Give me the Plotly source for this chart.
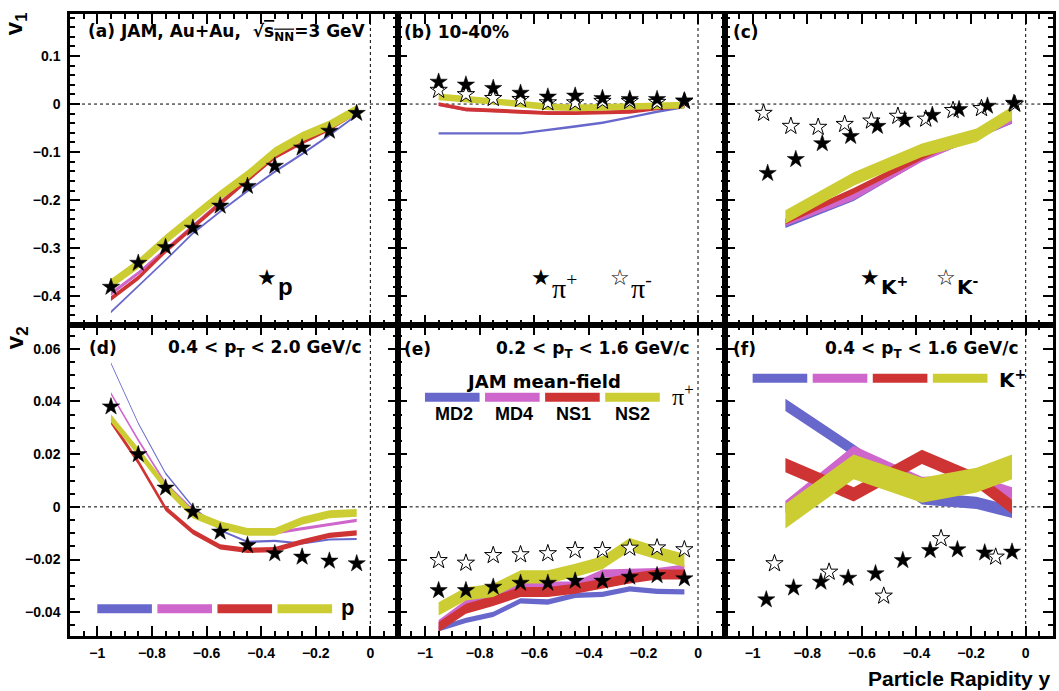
import plotly.graph_objects as go

# ---------------------------------------------------------------- data
# rapidity bins of the measured points
rap = [-0.95, -0.85, -0.75, -0.65, -0.55, -0.45, -0.35, -0.25, -0.15, -0.05]
# rapidity points of the kaon model calculations
rap_k_model = [-0.88, -0.63, -0.38, -0.18, -0.05]

# (a) proton v1
v1_p = [-0.381, -0.331, -0.298, -0.258, -0.212, -0.171, -0.129, -0.091, -0.056, -0.019]
v1_p_md2 = [-0.433, -0.380, -0.325, -0.269, -0.224, -0.181, -0.141, -0.104, -0.065, -0.023]
v1_p_md4 = [-0.395, -0.352, -0.303, -0.253, -0.205, -0.156, -0.108, -0.077, -0.049, -0.015]
v1_p_ns1 = [-0.405, -0.362, -0.306, -0.256, -0.208, -0.158, -0.110, -0.079, -0.051, -0.016]
v1_p_ns2 = [-0.374, -0.333, -0.282, -0.236, -0.190, -0.148, -0.100, -0.068, -0.044, -0.012]

# (b) pion v1
v1_pip = [0.046, 0.040, 0.033, 0.023, 0.015, 0.017, 0.012, 0.010, 0.010, 0.007]
v1_pim = [0.029, 0.020, 0.012, 0.010, 0.003, 0.003, 0.006, 0.006, 0.004, 0.006]
v1_pi_md2 = [-0.061, -0.061, -0.061, -0.061, -0.054, -0.047, -0.039, -0.028, -0.016, -0.006]
v1_pi_md4 = [-0.001, -0.012, -0.014, -0.016, -0.018, -0.018, -0.017, -0.014, -0.009, -0.004]
v1_pi_ns1 = [0.000, -0.011, -0.013, -0.016, -0.019, -0.019, -0.018, -0.016, -0.009, -0.004]
v1_pi_ns2 = [0.015, 0.010, 0.006, 0.000, -0.006, -0.008, -0.007, -0.005, -0.003, -0.002]

# (c) kaon v1
rap_kp_v1 = [-0.945, -0.842, -0.745, -0.641, -0.543, -0.443, -0.342, -0.244, -0.140, -0.043]
v1_kp = [-0.144, -0.115, -0.082, -0.067, -0.046, -0.033, -0.023, -0.011, -0.004, 0.002]
rap_km_v1 = [-0.960, -0.860, -0.760, -0.663, -0.565, -0.468, -0.366, -0.266, -0.162, -0.040]
v1_km = [-0.019, -0.046, -0.048, -0.042, -0.035, -0.025, -0.031, -0.013, -0.009, 0.000]
v1_k_md2 = [-0.254, -0.198, -0.115, -0.068, -0.037]
v1_k_md4 = [-0.247, -0.193, -0.113, -0.065, -0.033]
v1_k_ns1 = [-0.245, -0.181, -0.110, -0.058, -0.015]
v1_k_ns2 = [-0.235, -0.156, -0.096, -0.065, -0.019]

# (d) proton v2
v2_p = [0.0380, 0.0199, 0.0072, -0.0019, -0.0095, -0.0146, -0.0177, -0.0190, -0.0205, -0.0215]
v2_p_md2 = [0.0545, 0.0317, 0.0127, 0.0000, -0.0089, -0.0133, -0.0129, -0.0139, -0.0124, -0.0122]
v2_p_md4 = [0.0430, 0.0253, 0.0089, -0.0013, -0.0074, -0.0099, -0.0099, -0.0082, -0.0067, -0.0051]
v2_p_ns1 = [0.0323, 0.0171, -0.0006, -0.0095, -0.0152, -0.0165, -0.0162, -0.0133, -0.0108, -0.0099]
v2_p_ns2 = [0.0336, 0.0209, 0.0076, -0.0028, -0.0070, -0.0095, -0.0095, -0.0053, -0.0028, -0.0023]

# (e) pion v2
v2_pip = [-0.0317, -0.0317, -0.0304, -0.0289, -0.0289, -0.0281, -0.0281, -0.0266, -0.0260, -0.0272]
v2_pim = [-0.0203, -0.0213, -0.0184, -0.0181, -0.0177, -0.0165, -0.0165, -0.0156, -0.0155, -0.0162]
v2_pi_md2 = [-0.0463, -0.0431, -0.0408, -0.0357, -0.0361, -0.0336, -0.0332, -0.0311, -0.0321, -0.0323]
v2_pi_md4 = [-0.0444, -0.0368, -0.0342, -0.0298, -0.0298, -0.0298, -0.0253, -0.0251, -0.0247, -0.0234]
v2_pi_ns1 = [-0.0456, -0.0387, -0.0357, -0.0323, -0.0323, -0.0311, -0.0292, -0.0272, -0.0257, -0.0257]
v2_pi_ns2 = [-0.0387, -0.0330, -0.0317, -0.0266, -0.0266, -0.0241, -0.0212, -0.0143, -0.0175, -0.0203]

# (f) kaon v2
v2_kp = [-0.0352, -0.0307, -0.0285, -0.0270, -0.0253, -0.0203, -0.0165, -0.0162, -0.0174, -0.0171]
rap_km_v2 = [-0.92, -0.72, -0.52, -0.31, -0.11]
v2_km = [-0.0215, -0.0247, -0.0338, -0.0120, -0.0190]
v2_k_md2 = [0.0387, 0.0215, 0.0032, 0.0015, -0.0019]
v2_k_md4 = [0.0000, 0.0209, 0.0091, 0.0095, 0.0051]
v2_k_ns1 = [0.0158, 0.0047, 0.0190, 0.0101, 0.0000]
v2_k_ns2 = [-0.0035, 0.0152, 0.0063, 0.0101, 0.0152]

# tick values
x_ticks = [-1, -0.8, -0.6, -0.4, -0.2, 0]
v1_ticks = [-0.4, -0.3, -0.2, -0.1, 0, 0.1]
v2_ticks = [-0.04, -0.02, 0, 0.02, 0.04, 0.06]

# ---------------------------------------------------------------- style
MODELS = ["MD2", "MD4", "NS1", "NS2"]
COLORS = {"MD2": "#6868cc", "MD4": "#cf66cc", "NS1": "#cf3434", "NS2": "#cccc33"}
SANS = "Liberation Sans"
WIDE = "DejaVu Sans"
SERIF = "Liberation Serif"

W, H = 1059, 691
ML, MR, MT, MB = 70, 3, 14, 55
X_RANGE = [-1.1, 0.1]
V1_RANGE = [-0.46, 0.1875]
V2_RANGE = [-0.049, 0.069]
STAR = 13


def paper(px, py):
    """pixel position in the page -> paper coordinates"""
    return (px - ML) / (W - ML - MR), (H - MB - py) / (H - MT - MB)


panels = [
    dict(x_model=rap,
         models=dict(MD2=v1_p_md2, MD4=v1_p_md4, NS1=v1_p_ns1, NS2=v1_p_ns2),
         half=dict(MD2=0.0025, MD4=0.004, NS1=0.005, NS2=0.010),
         filled=(rap, v1_p), opened=None),
    dict(x_model=rap,
         models=dict(MD2=v1_pi_md2, MD4=v1_pi_md4, NS1=v1_pi_ns1, NS2=v1_pi_ns2),
         half=dict(MD2=0.0025, MD4=0.003, NS1=0.004, NS2=0.007),
         filled=(rap, v1_pip), opened=(rap, v1_pim)),
    dict(x_model=rap_k_model,
         models=dict(MD2=v1_k_md2, MD4=v1_k_md4, NS1=v1_k_ns1, NS2=v1_k_ns2),
         half=dict(MD2=0.004, MD4=0.007, NS1=0.006, NS2=0.014),
         filled=(rap_kp_v1, v1_kp), opened=(rap_km_v1, v1_km)),
    dict(x_model=rap,
         models=dict(MD2=v2_p_md2, MD4=v2_p_md4, NS1=v2_p_ns1, NS2=v2_p_ns2),
         half=dict(MD2=0.0004, MD4=0.0006, NS1=0.0010, NS2=0.0015),
         filled=(rap, v2_p), opened=None),
    dict(x_model=rap,
         models=dict(MD2=v2_pi_md2, MD4=v2_pi_md4, NS1=v2_pi_ns1, NS2=v2_pi_ns2),
         half=dict(MD2=0.0010, MD4=0.0015, NS1=0.0019, NS2=0.0025),
         filled=(rap, v2_pip), opened=(rap, v2_pim)),
    dict(x_model=rap_k_model,
         models=dict(MD2=v2_k_md2, MD4=v2_k_md4, NS1=v2_k_ns1, NS2=v2_k_ns2),
         half=dict(MD2=0.0023, MD4=0.0023, NS1=0.0027, NS2=0.0047),
         filled=(rap, v2_kp), opened=(rap_km_v2, v2_km)),
]

fig = go.Figure()

for i, pan in enumerate(panels):
    n = "" if i == 0 else str(i + 1)
    xa, ya = "x" + n, "y" + n
    xs = pan["x_model"]
    # model bands: centre +/- half width
    for m in MODELS:
        c = pan["models"][m]
        h = pan["half"][m]
        upper = [v + h for v in c]
        lower = [v - h for v in c]
        fig.add_trace(go.Scatter(
            x=xs + xs[::-1], y=upper + lower[::-1], xaxis=xa, yaxis=ya,
            mode="lines", fill="toself", fillcolor=COLORS[m],
            line=dict(width=0, color=COLORS[m]), hoverinfo="skip", showlegend=False))
    if pan["opened"] is not None:
        ox, oy = pan["opened"]
        fig.add_trace(go.Scatter(
            x=ox, y=oy, xaxis=xa, yaxis=ya, mode="markers", showlegend=False,
            marker=dict(symbol="star", size=STAR, color="white",
                        line=dict(color="black", width=1))))
    fx, fy = pan["filled"]
    fig.add_trace(go.Scatter(
        x=fx, y=fy, xaxis=xa, yaxis=ya, mode="markers", showlegend=False,
        marker=dict(symbol="star", size=STAR, color="black",
                    line=dict(color="black", width=0.5))))

# ---------------------------------------------------------------- axes
tickfont = dict(family=SANS, size=14, color="black", weight="bold")
layout_axes = {}
for i in range(6):
    col, row = i % 3, i // 3
    n = "" if i == 0 else str(i + 1)
    top = row == 0
    layout_axes["xaxis" + n] = dict(
        domain=[col / 3, (col + 1) / 3], anchor="y" + n, range=X_RANGE,
        tickmode="array", tickvals=x_ticks, showticklabels=not top,
        ticks="inside", ticklen=10, tickwidth=1.5, tickcolor="black",
        minor=dict(ticks="inside", ticklen=5, tickwidth=1.5, tickcolor="black",
                   tickmode="linear", tick0=0, dtick=0.05),
        showline=True, linewidth=2.5, linecolor="black", mirror="allticks",
        showgrid=False, zeroline=False, tickfont=tickfont, ticklabelstandoff=2)
    layout_axes["yaxis" + n] = dict(
        domain=[0.5, 1] if top else [0, 0.5], anchor="x" + n,
        range=V1_RANGE if top else V2_RANGE,
        tickmode="array", tickvals=v1_ticks if top else v2_ticks,
        showticklabels=(col == 0),
        ticks="inside", ticklen=10, tickwidth=1.5, tickcolor="black",
        minor=dict(ticks="inside", ticklen=5, tickwidth=1.5, tickcolor="black",
                   tickmode="linear", tick0=0, dtick=0.02 if top else 0.005),
        showline=True, linewidth=2.5, linecolor="black", mirror="allticks",
        showgrid=False, zeroline=False, tickfont=tickfont, ticklabelstandoff=4)

# ---------------------------------------------------------------- shapes
shapes = []
for i in range(6):
    n = "" if i == 0 else str(i + 1)
    dot = dict(color="black", width=1, dash="dot")
    shapes.append(dict(type="line", xref="x" + n + " domain", yref="y" + n,
                       x0=0, x1=1, y0=0, y1=0, line=dot, layer="below"))
    shapes.append(dict(type="line", xref="x" + n, yref="y" + n + " domain",
                       x0=0, x1=0, y0=0, y1=1, line=dot, layer="below"))

# coloured keys of the model legends (panels d, e, f)
key_spans = [(-1.0, -0.8), (-0.78, -0.58), (-0.56, -0.36), (-0.34, -0.14)]
for n, ykey in (("4", -0.0387), ("5", 0.0416), ("6", 0.0488)):
    for m, (x0, x1) in zip(MODELS, key_spans):
        shapes.append(dict(type="line", xref="x" + n, yref="y" + n,
                           x0=x0, x1=x1, y0=ykey, y1=ykey,
                           line=dict(color=COLORS[m], width=9)))

# ---------------------------------------------------------------- text
annotations = []


def text(px, py, s, size=16, anchor="left", family=SANS, bold=True, angle=0):
    x, y = paper(px, py)
    annotations.append(dict(
        x=x, y=y, xref="paper", yref="paper", text=s, showarrow=False,
        xanchor=anchor, yanchor="middle", textangle=angle,
        font=dict(family=family, size=size, color="black",
                  weight="bold" if bold else "normal")))


# panel labels and headers
text(86, 32, "(a) JAM, Au+Au,  √<span style='text-decoration:overline'>s<sub>NN</sub></span>=3 GeV",
     size=17, family=WIDE)
text(403, 32, "(b) 10-40%", size=17, family=WIDE)
text(733, 32, "(c)", size=17, family=WIDE)
text(87, 348, "(d)", size=17, family=WIDE)
text(365, 348, "0.4 &lt; p<sub>T</sub> &lt; 2.0 GeV/c", size=17, family=WIDE, anchor="right")
text(403, 349, "(e)", size=17, family=WIDE)
text(694, 349, "0.2 &lt; p<sub>T</sub> &lt; 1.6 GeV/c", size=17, family=WIDE, anchor="right")
text(733, 349, "(f)", size=17, family=WIDE)
text(1024, 349, "0.4 &lt; p<sub>T</sub> &lt; 1.6 GeV/c", size=17, family=WIDE, anchor="right")

# marker legends
text(268, 277, "★", size=22, anchor="center", family="DejaVu Sans", bold=False)
text(277, 286, "p", size=24)
text(542, 277, "★", size=22, anchor="center", family="DejaVu Sans", bold=False)
text(551, 286, "π<sup>+</sup>", size=28, family=SERIF, bold=False)
text(622, 277, "☆", size=22, anchor="center", family="DejaVu Sans", bold=False)
text(631, 286, "π<sup>-</sup>", size=28, family=SERIF, bold=False)
text(872, 277, "★", size=22, anchor="center", family="DejaVu Sans", bold=False)
text(881, 286, "K<sup>+</sup>", size=20, family=WIDE)
text(949, 277, "☆", size=22, anchor="center", family="DejaVu Sans", bold=False)
text(958, 286, "K<sup>-</sup>", size=20, family=WIDE)

# model legends
text(340, 607, "p", size=22)
text(545, 381, "JAM mean-field", size=18, family=WIDE, anchor="center")
for label, cx in zip(MODELS, [455, 515, 575, 634]):
    text(cx, 414, label, size=18, anchor="center")
text(672, 395, "π<sup>+</sup>", size=24, family=SERIF, bold=False)
text(1000, 379, "K<sup>+</sup>", size=20, family=WIDE)

# axis titles
text(16, 24, "v<sub>1</sub>", size=24, anchor="center", angle=-90)
text(16, 338, "v<sub>2</sub>", size=24, anchor="center", angle=-90)
text(1055, 678, "Particle Rapidity y", size=21, anchor="right")

fig.update_layout(
    width=W, height=H,
    margin=dict(l=ML, r=MR, t=MT, b=MB),
    paper_bgcolor="white", plot_bgcolor="white",
    shapes=shapes, annotations=annotations, showlegend=False,
    **layout_axes)

fig.write_html("out.html")
